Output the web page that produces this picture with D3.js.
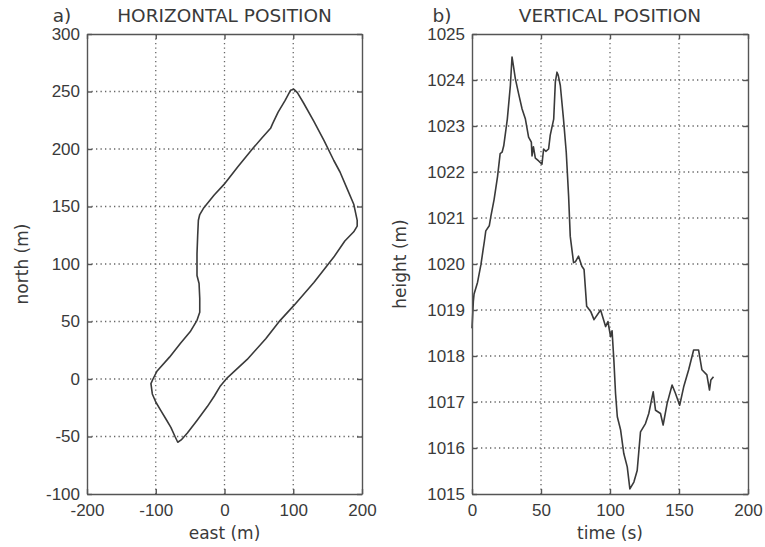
<!DOCTYPE html>
<html>
<head>
<meta charset="utf-8">
<script src="https://cdn.jsdelivr.net/npm/d3@7"></script>
<style>
  body { margin: 0; background: #fff; }
  svg { font-family: "DejaVu Sans", sans-serif; }
  .axis text { font-size: 17px; fill: #3a3a3a; }
  .axis path, .axis line { stroke: #555; stroke-width: 1.4; }
  .grid line { stroke: #666; stroke-width: 1.3; stroke-dasharray: 1.3, 3.2; }
  .trace { fill: none; stroke: #3a3a3a; stroke-width: 1.6; stroke-linejoin: round; }
  .label { font-size: 17px; fill: #3a3a3a; }
  .title { font-size: 18.5px; fill: #3a3a3a; }
</style>
</head>
<body>
<svg width="765" height="547"></svg>
<script>
'use strict';

// horizontal track (east, north) in metres
var eastData  = [4, 33, 60, 81, 101, 130, 159, 175, 188, 193, 193, 188, 178, 168, 159, 145, 130, 115, 106, 101,
                 96, 88, 78, 70, 67, 55, 42, 20, -1, -15, -30, -36, -38, -39, -40, -40, -37, -36, -36, -40,
                 -50, -64, -80, -98, -104, -107, -105, -100, -93, -85, -78, -72, -68, -63, -54, -40, -25, -15, -6, 4];
var northData = [1, 17, 35, 51, 64, 84, 106, 120, 128, 133, 138, 152, 166, 180, 190, 207, 224, 240, 249, 252,
                 251, 242, 232, 222, 218, 210, 201, 185, 169, 160, 149, 143, 138, 125, 109, 90, 83, 70, 58, 51,
                 41, 31, 19, 7, 0, -4, -13, -20, -27, -35, -42, -50, -55, -53, -47, -36, -24, -15, -6, 1];

// vertical profile (time s, height m)
var timeData   = [0, 1, 1.5, 4, 6.5, 8, 9, 10, 12.5, 13.7, 16, 18.5, 20.4, 21.8, 23, 25.6, 27.8, 29, 29.8, 31.4,
                  33.8, 36.3, 38.7, 41, 43, 43.5, 44.5, 45.9, 48.3, 50.7, 51.9, 53.5, 55.5, 56.7, 59.2, 60.4, 61.6,
                  62.5, 64, 66.3, 68.3, 70, 71.2, 73.6, 75, 77.2, 79.6, 81.2, 83.1, 86, 88.4, 93.2, 96.8, 98.5,
                  100.4, 101.5, 102.8, 104, 105.3, 107.7, 110, 112.5, 114.4, 117.3, 119.7, 122.1, 125.7, 128.1,
                  131.3, 133, 136.6, 138.5, 141.4, 145, 147.4, 150.5, 153.4, 157, 160.6, 164.2, 166.6, 170.2,
                  172.1, 173.1, 175];
var heightData = [1018.6, 1019.2, 1019.35, 1019.6, 1019.99, 1020.3, 1020.5, 1020.72, 1020.83, 1021.04, 1021.4,
                  1021.9, 1022.4, 1022.43, 1022.57, 1023.15, 1023.88, 1024.5, 1024.35, 1024.03,
                  1023.7, 1023.37, 1023.15, 1022.76, 1022.65, 1022.35, 1022.55, 1022.3, 1022.24, 1022.17, 1022.5,
                  1022.45, 1022.5, 1022.8, 1023.15, 1023.96, 1024.17, 1024.1, 1023.88, 1023.15, 1022.43, 1021.48,
                  1020.6, 1020.03, 1020.05, 1020.17, 1019.95, 1019.88, 1019.08, 1018.97, 1018.79, 1019.0, 1018.64,
                  1018.75, 1018.42, 1018.55, 1017.91, 1017.19, 1016.68, 1016.39, 1015.88, 1015.59, 1015.11, 1015.26,
                  1015.51, 1016.35, 1016.53, 1016.75, 1017.22, 1016.82, 1016.75, 1016.5, 1016.97, 1017.37,
                  1017.19, 1016.93, 1017.33, 1017.7, 1018.13, 1018.13, 1017.7, 1017.59, 1017.26, 1017.48, 1017.55];

// tick labels
var eastTicks   = [-200, -100, 0, 100, 200];
var northTicks  = [-100, -50, 0, 50, 100, 150, 200, 250, 300];
var timeTicks   = [0, 50, 100, 150, 200];
var heightTicks = [1015, 1016, 1017, 1018, 1019, 1020, 1021, 1022, 1023, 1024, 1025];

var svg = d3.select("svg");

// plain integers with an ascii minus, like the original
var fmt = function(d) { return String(d); };

// one panel: frame, dotted grid, inward ticks, labels, trace
function panel(o) {
    var x = d3.scaleLinear().domain(o.xDomain).range([o.left, o.right]);
    var y = d3.scaleLinear().domain(o.yDomain).range([o.bottom, o.top]);
    var g = svg.append("g");

    // grid
    var grid = g.append("g").attr("class", "grid");
    grid.selectAll(".gx").data(o.xTicks.slice(1, -1)).enter().append("line")
        .attr("x1", function(d) { return x(d); }).attr("x2", function(d) { return x(d); })
        .attr("y1", o.top).attr("y2", o.bottom);
    grid.selectAll(".gy").data(o.yTicks.slice(1, -1)).enter().append("line")
        .attr("y1", function(d) { return y(d); }).attr("y2", function(d) { return y(d); })
        .attr("x1", o.left).attr("x2", o.right);

    // trace
    var line = d3.line()
        .x(function(d) { return x(d[0]); })
        .y(function(d) { return y(d[1]); });
    g.append("path")
        .attr("class", "trace")
        .attr("d", line(d3.zip(o.xs, o.ys)));

    // axes, ticks pointing inwards
    g.append("g").attr("class", "axis")
        .attr("transform", "translate(0," + o.bottom + ")")
        .call(d3.axisBottom(x).tickValues(o.xTicks).tickFormat(fmt).tickSizeInner(-5).tickSizeOuter(0).tickPadding(10));
    g.append("g").attr("class", "axis")
        .attr("transform", "translate(0," + o.top + ")")
        .call(d3.axisTop(x).tickValues(o.xTicks).tickFormat("").tickSizeInner(-5).tickSizeOuter(0));
    g.append("g").attr("class", "axis")
        .attr("transform", "translate(" + o.left + ",0)")
        .call(d3.axisLeft(y).tickValues(o.yTicks).tickFormat(fmt).tickSizeInner(-5).tickSizeOuter(0).tickPadding(7));
    g.append("g").attr("class", "axis")
        .attr("transform", "translate(" + o.right + ",0)")
        .call(d3.axisRight(y).tickValues(o.yTicks).tickFormat("").tickSizeInner(-5).tickSizeOuter(0));

    // titles and axis labels
    g.append("text").attr("class", "title")
        .attr("x", o.tagX).attr("y", 22).attr("text-anchor", "middle")
        .text(o.tag);
    g.append("text").attr("class", "title")
        .attr("x", (o.left + o.right) / 2).attr("y", 22).attr("text-anchor", "middle")
        .text(o.title);
    g.append("text").attr("class", "label")
        .attr("x", (o.left + o.right) / 2).attr("y", 539).attr("text-anchor", "middle")
        .text(o.xLabel);
    g.append("text").attr("class", "label")
        .attr("transform", "rotate(-90)")
        .attr("x", -(o.top + o.bottom) / 2).attr("y", o.yLabelX)
        .attr("dy", ".35em").attr("text-anchor", "middle")
        .text(o.yLabel);
}

panel({
    left: 87, right: 362, top: 34, bottom: 494,
    xDomain: [-200, 200], yDomain: [-100, 300],
    xTicks: eastTicks, yTicks: northTicks,
    xs: eastData, ys: northData,
    tag: "a)", tagX: 62, title: "HORIZONTAL POSITION",
    xLabel: "east (m)", yLabel: "north (m)", yLabelX: 22
});

panel({
    left: 472, right: 748, top: 34, bottom: 494,
    xDomain: [0, 200], yDomain: [1015, 1025],
    xTicks: timeTicks, yTicks: heightTicks,
    xs: timeData, ys: heightData,
    tag: "b)", tagX: 442, title: "VERTICAL POSITION",
    xLabel: "time (s)", yLabel: "height (m)", yLabelX: 400
});
</script>
</body>
</html>
